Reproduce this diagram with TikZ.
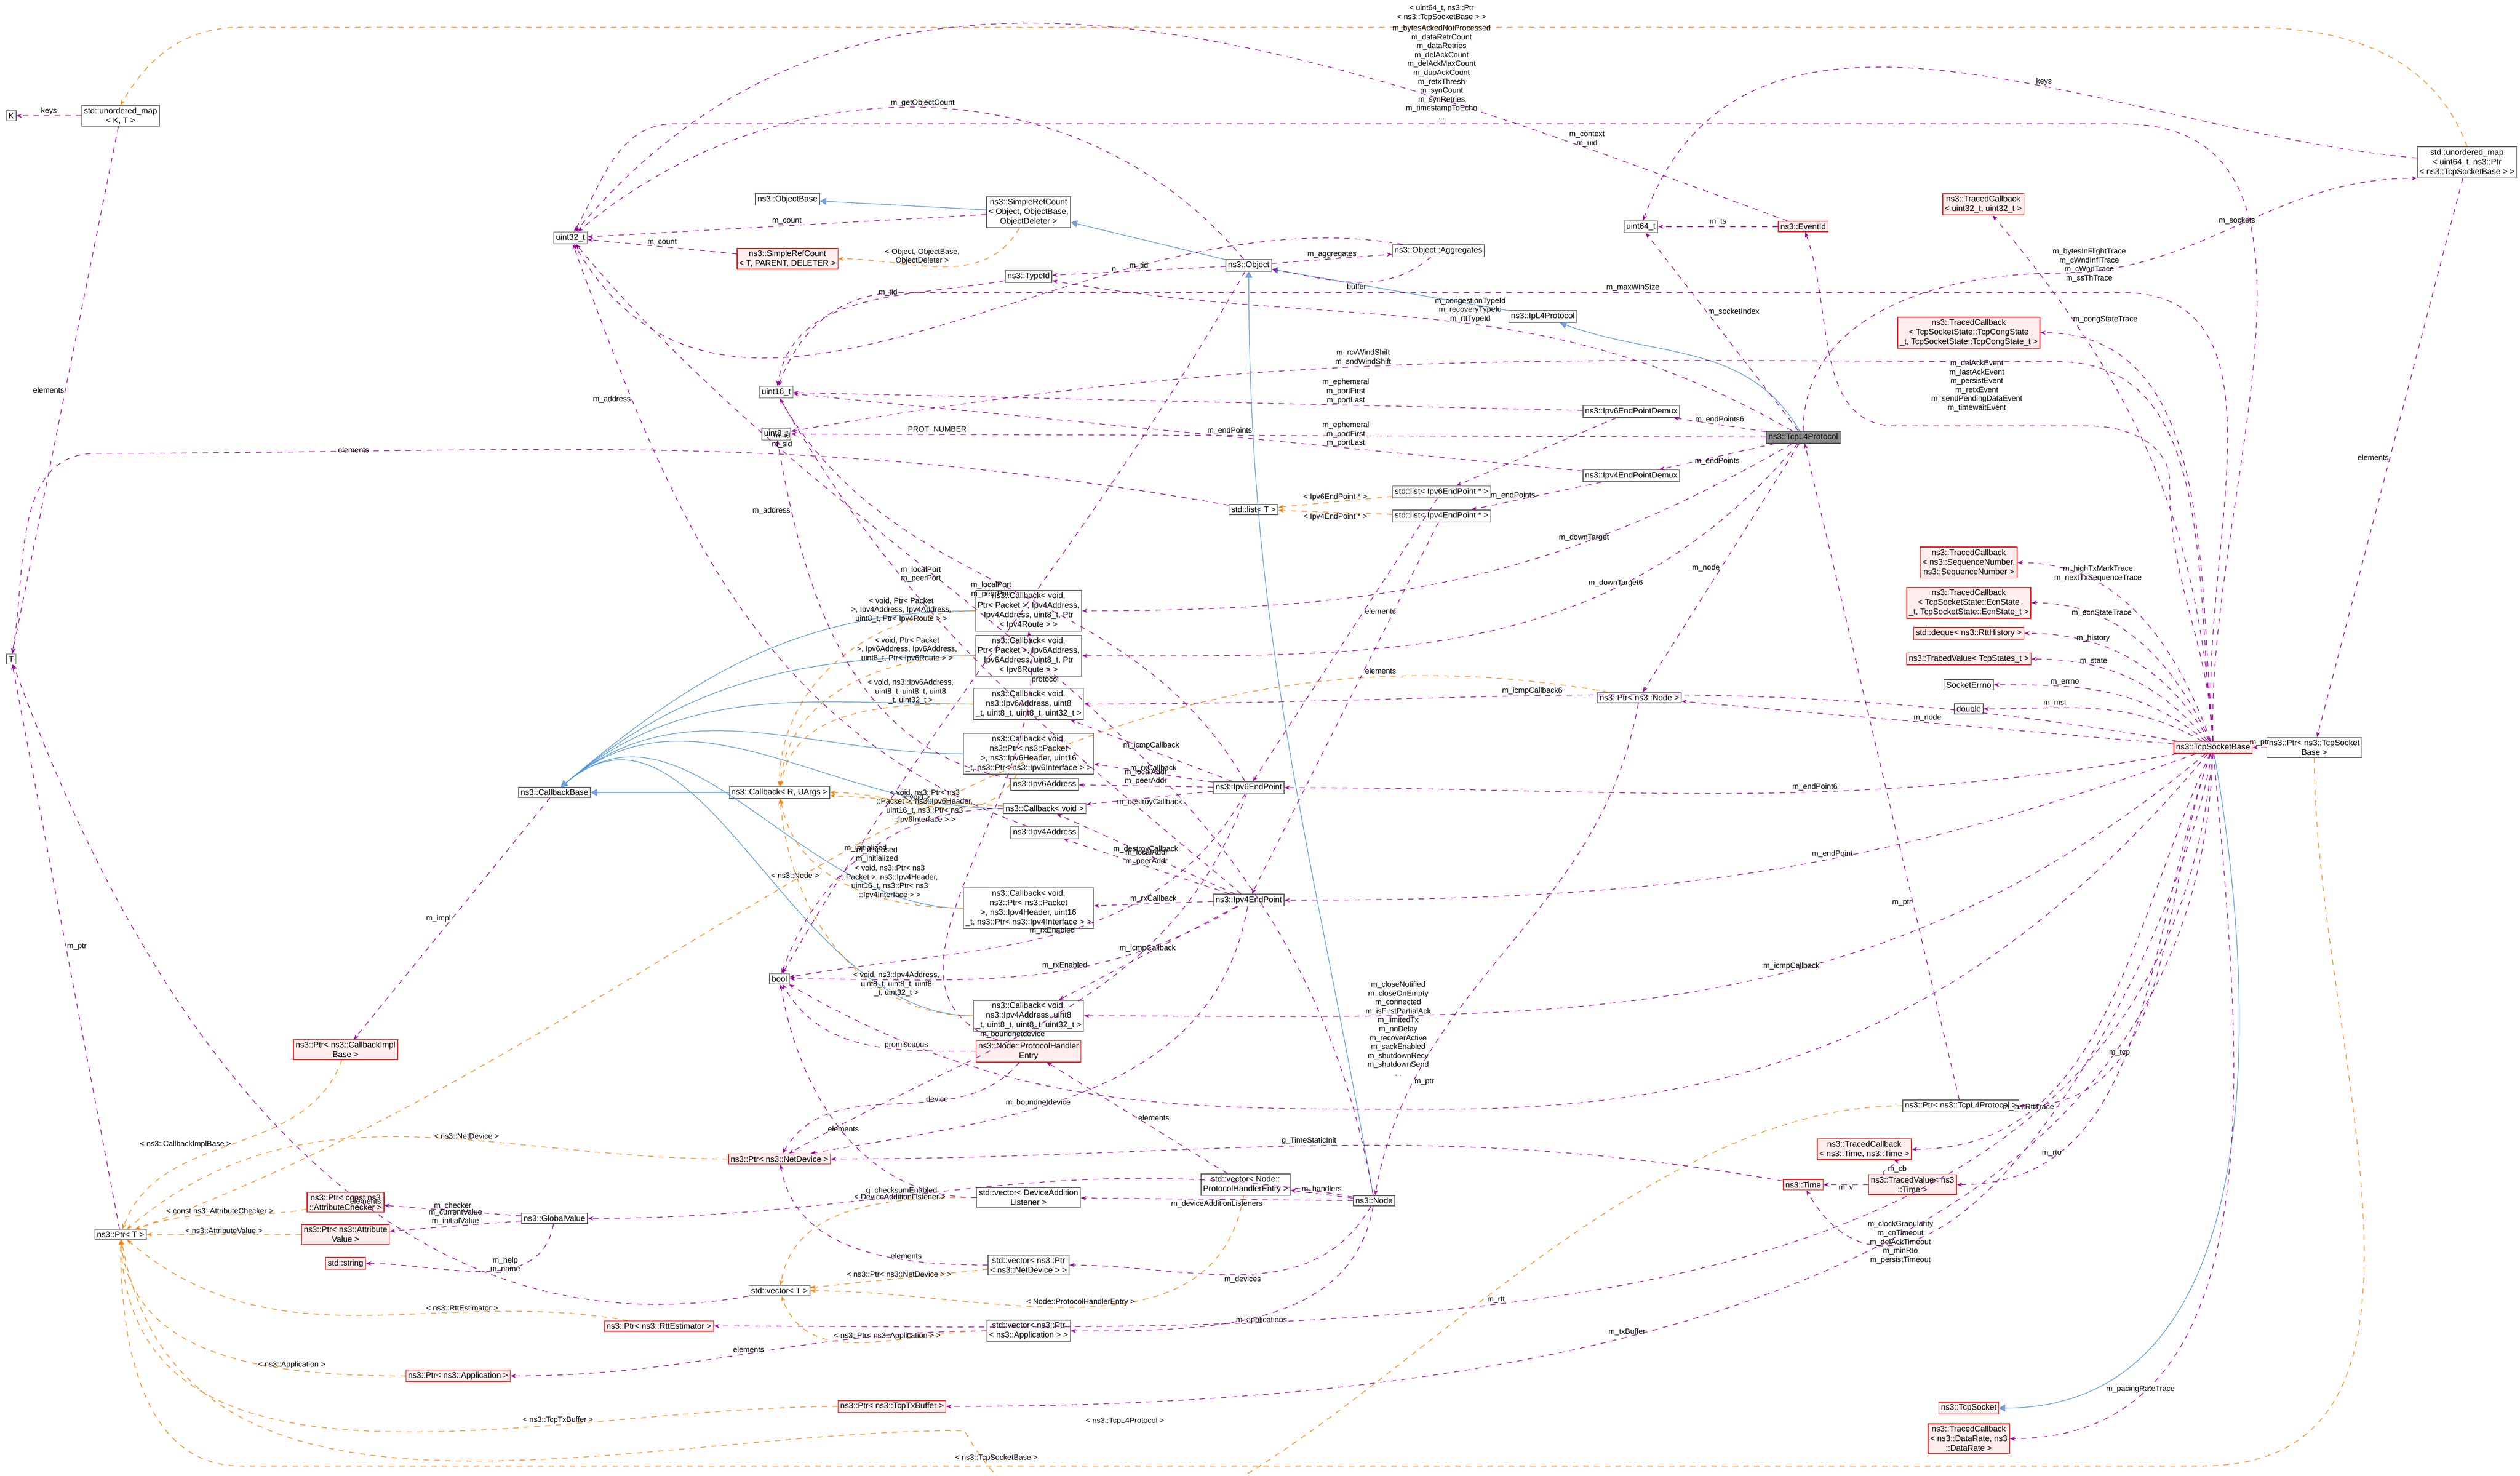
\documentclass[tikz,border=0pt]{standalone}
\usepackage{fontspec}
\setmainfont{Liberation Sans}
\usetikzlibrary{arrows.meta}
\begin{document}
\begin{tikzpicture}[x=0.03177cm,y=-0.03177cm,
  font=\fontsize{4.6}{5.4}\selectfont,
  box/.style={draw=black!60,fill=white,inner sep=1.2pt,align=center,line width=0.4pt},
  rbox/.style={draw=red,fill=red!7,inner sep=1.2pt,align=center,line width=0.4pt},
  gbox/.style={draw=black!70,fill=black!45,inner sep=1.2pt,align=center},
  use/.style={draw=violet!80!magenta,dashed,line width=0.35pt,-{Stealth[length=3pt]}},
  inh/.style={draw=cyan!60!blue!70,line width=0.35pt,-{Triangle[open,length=3.5pt,fill=cyan!40!blue!50]}},
  tpl/.style={draw=orange,dashed,line width=0.35pt,-{Stealth[length=3pt]}},
  lb/.style={font=\fontsize{4.3}{5}\selectfont,align=center,inner sep=0.5pt}]
\useasboundingbox (0,0) rectangle (1568,918);
% nodes
\node[box] (K) at (7,72) {K};
\node[box] (umapKT) at (75,72) {std::unordered\_map\\< K, T >};
\node[box] (u32) at (355,148) {uint32\_t};
\node[box] (objb) at (490,124) {ns3::ObjectBase};
\node[box] (src) at (640,132) {ns3::SimpleRefCount\\< Object, ObjectBase,\\ ObjectDeleter >};
\node[rbox] (srct) at (490,161) {ns3::SimpleRefCount\\< T, PARENT, DELETER >};
\node[box] (tid) at (640,172) {ns3::TypeId};
\node[box] (obj) at (777,165) {ns3::Object};
\node[box] (agg) at (895,156) {ns3::Object::Aggregates};
\node[box] (u64) at (1021,141) {uint64\_t};
\node[rbox] (evt) at (1122,141) {ns3::EventId};
\node[rbox] (tc32) at (1234,127) {ns3::TracedCallback\\< uint32\_t, uint32\_t >};
\node[box] (umap64) at (1535,101) {std::unordered\_map\\< uint64\_t, ns3::Ptr\\< ns3::TcpSocketBase > >};
\node[box] (ipl4) at (960,197) {ns3::IpL4Protocol};
\node[rbox] (tccong) at (1225,207) {ns3::TracedCallback\\< TcpSocketState::TcpCongState\\\_t, TcpSocketState::TcpCongState\_t >};
\node[box] (u16) at (483,244) {uint16\_t};
\node[box] (u8) at (483,270) {uint8\_t};
\node[box] (dmx6) at (1015,256) {ns3::Ipv6EndPointDemux};
\node[gbox] (tcpl4) at (1122,272) {ns3::TcpL4Protocol};
\node[box] (dmx4) at (1015,296) {ns3::Ipv4EndPointDemux};
\node[box] (list6) at (897,306) {std::list< Ipv6EndPoint * >};
\node[box] (list4) at (897,321) {std::list< Ipv4EndPoint * >};
\node[box] (listT) at (780,317) {std::list< T >};
\node[box] (T) at (7,410) {T};
\node[box] (cb4r) at (640,380) {ns3::Callback< void,\\ Ptr< Packet >, Ipv4Address,\\ Ipv4Address, uint8\_t, Ptr\\< Ipv4Route > >};
\node[box] (cb6r) at (640,408) {ns3::Callback< void,\\ Ptr< Packet >, Ipv6Address,\\ Ipv6Address, uint8\_t, Ptr\\< Ipv6Route > >};
\node[box] (cbi6) at (640,438) {ns3::Callback< void,\\ ns3::Ipv6Address, uint8\\\_t, uint8\_t, uint8\_t, uint32\_t >};
\node[box] (cbrx6) at (640,469) {ns3::Callback< void,\\ ns3::Ptr< ns3::Packet\\ >, ns3::Ipv6Header, uint16\\\_t, ns3::Ptr< ns3::Ipv6Interface > >};
\node[box] (ip6a) at (650,488) {ns3::Ipv6Address};
\node[box] (cbv) at (650,503) {ns3::Callback< void >};
\node[box] (ip4a) at (650,518) {ns3::Ipv4Address};
\node[box] (cbrx4) at (640,565) {ns3::Callback< void,\\ ns3::Ptr< ns3::Packet\\ >, ns3::Ipv4Header, uint16\\\_t, ns3::Ptr< ns3::Ipv4Interface > >};
\node[box] (cbi4) at (640,632) {ns3::Callback< void,\\ ns3::Ipv4Address, uint8\\\_t, uint8\_t, uint8\_t, uint32\_t >};
\node[rbox] (phe) at (640,654) {ns3::Node::ProtocolHandler\\Entry};
\node[box] (cbb) at (345,493) {ns3::CallbackBase};
\node[box] (cbr) at (485,493) {ns3::Callback< R, UArgs >};
\node[box] (bool) at (485,609) {bool};
\node[box] (ep6) at (777,490) {ns3::Ipv6EndPoint};
\node[box] (ep4) at (777,560) {ns3::Ipv4EndPoint};
\node[box] (pnode) at (1020,434) {ns3::Ptr< ns3::Node >};
\node[rbox] (pcbi) at (215,653) {ns3::Ptr< ns3::CallbackImpl\\Base >};
\node[rbox] (tcseq) at (1225,350) {ns3::TracedCallback\\< ns3::SequenceNumber,\\ ns3::SequenceNumber >};
\node[rbox] (tcecn) at (1225,375) {ns3::TracedCallback\\< TcpSocketState::EcnState\\\_t, TcpSocketState::EcnState\_t >};
\node[rbox] (deq) at (1225,394) {std::deque< ns3::RttHistory >};
\node[rbox] (tvst) at (1225,410) {ns3::TracedValue< TcpStates\_t >};
\node[box] (serr) at (1225,426) {SocketErrno};
\node[box] (dbl) at (1225,441) {double};
\node[rbox] (tsb) at (1377,465) {ns3::TcpSocketBase};
\node[box] (ptsb) at (1440,465) {ns3::Ptr< ns3::TcpSocket\\Base >};
\node[rbox] (pnd) at (485,721) {ns3::Ptr< ns3::NetDevice >};
\node[box] (vdal) at (640,745) {std::vector< DeviceAddition\\Listener >};
\node[box] (vphe) at (775,737) {std::vector< Node::\\ProtocolHandlerEntry >};
\node[box] (node) at (855,747) {ns3::Node};
\node[box] (ptl4) at (1220,688) {ns3::Ptr< ns3::TcpL4Protocol >};
\node[rbox] (tctime) at (1160,715) {ns3::TracedCallback\\< ns3::Time, ns3::Time >};
\node[rbox] (tvtime) at (1190,737) {ns3::TracedValue< ns3\\::Time >};
\node[rbox] (time) at (1122,737) {ns3::Time};
\node[box] (pT) at (75,768) {ns3::Ptr< T >};
\node[rbox] (pchk) at (215,748) {ns3::Ptr< const ns3\\::AttributeChecker >};
\node[rbox] (pav) at (215,768) {ns3::Ptr< ns3::Attribute\\Value >};
\node[rbox] (str) at (215,786) {std::string};
\node[box] (gv) at (345,758) {ns3::GlobalValue};
\node[box] (vT) at (485,803) {std::vector< T >};
\node[box] (vnd) at (640,787) {std::vector< ns3::Ptr\\< ns3::NetDevice > >};
\node[box] (vapp) at (640,828) {std::vector< ns3::Ptr\\< ns3::Application > >};
\node[rbox] (prtt) at (410,825) {ns3::Ptr< ns3::RttEstimator >};
\node[rbox] (papp) at (285,856) {ns3::Ptr< ns3::Application >};
\node[rbox] (ptx) at (555,875) {ns3::Ptr< ns3::TcpTxBuffer >};
\node[rbox] (tsock) at (1225,876) {ns3::TcpSocket};
\node[rbox] (tcrate) at (1225,895) {ns3::TracedCallback\\< ns3::DataRate, ns3\\::DataRate >};

% inheritance
\draw[inh] (src) -- (objb);
\draw[inh] (obj) -- (src);
\draw[inh] (ipl4) -- (obj);
\draw[inh] (tcpl4) to[out=120,in=-20] (ipl4);
\draw[inh] (node) to[out=100,in=-90] (obj);
\draw[inh] (cbr) -- (cbb);
\foreach \c in {cb4r,cb6r,cbi6,cbrx6,cbv,cbrx4,cbi4} \draw[inh] (\c) to[out=180,in=40] (cbb);
\draw[inh] (tsb) to[out=-80,in=0] (tsock);

% template instantiations
\draw[tpl] (umap64.north) to[out=110,in=0] (1400,17) -- (150,17) to[out=180,in=60] (umapKT.north);
\node[lb] at (897,8) {< uint64\_t, ns3::Ptr\\< ns3::TcpSocketBase > >};
\draw[tpl] (src) to[out=-120,in=0] node[lb,pos=0.4,above left] {< Object, ObjectBase,\\ ObjectDeleter >} (srct);
\draw[tpl] (list6) -- node[lb,above] {< Ipv6EndPoint * >} (listT);
\draw[tpl] (list4) -- node[lb,below] {< Ipv4EndPoint * >} (listT);
\draw[tpl] (pnode) to[out=170,in=20] node[lb,pos=0.55,above] {< ns3::Node >} (pT);
\draw[tpl] (cb4r) to[out=180,in=90] node[lb,pos=0.25,above] {< void, Ptr< Packet\\ >, Ipv4Address, Ipv4Address,\\ uint8\_t, Ptr< Ipv4Route > >} (cbr);
\draw[tpl] (cb6r) to[out=180,in=85] node[lb,pos=0.25,above] {< void, Ptr< Packet\\ >, Ipv6Address, Ipv6Address,\\ uint8\_t, Ptr< Ipv6Route > >} (cbr);
\draw[tpl] (cbi6) to[out=180,in=80] node[lb,pos=0.25,above] {< void, ns3::Ipv6Address,\\ uint8\_t, uint8\_t, uint8\\\_t, uint32\_t >} (cbr);
\draw[tpl] (cbrx6) to[out=-120,in=0] node[lb,pos=0.3,left] {< void, ns3::Ptr< ns3\\::Packet >, ns3::Ipv6Header,\\ uint16\_t, ns3::Ptr< ns3\\::Ipv6Interface > >} (cbr);
\draw[tpl] (cbv) -- node[lb,above] {< void >} (cbr);
\draw[tpl] (cbrx4) to[out=180,in=-80] node[lb,pos=0.3,above] {< void, ns3::Ptr< ns3\\::Packet >, ns3::Ipv4Header,\\ uint16\_t, ns3::Ptr< ns3\\::Ipv4Interface > >} (cbr);
\draw[tpl] (cbi4) to[out=180,in=-85] node[lb,pos=0.25,above] {< void, ns3::Ipv4Address,\\ uint8\_t, uint8\_t, uint8\\\_t, uint32\_t >} (cbr);
\draw[tpl] (pcbi) to[out=-110,in=70] node[lb,pos=0.5,left] {< ns3::CallbackImplBase >} (pT);
\draw[tpl] (pnd) to[out=180,in=40] node[lb,pos=0.4,above] {< ns3::NetDevice >} (pT);
\draw[tpl] (pchk) to[out=190,in=20] node[lb,above] {< const ns3::AttributeChecker >} (pT);
\draw[tpl] (pav) -- node[lb,above] {< ns3::AttributeValue >} (pT);
\draw[tpl] (prtt) to[out=170,in=-40] node[lb,pos=0.3,above] {< ns3::RttEstimator >} (pT);
\draw[tpl] (papp) to[out=180,in=-85] node[lb,pos=0.3,above] {< ns3::Application >} (pT);
\draw[tpl] (ptx) to[out=180,in=-88] node[lb,pos=0.3,above] {< ns3::TcpTxBuffer >} (pT);
\draw[tpl] (ptl4) to[out=180,in=-60] (600,890) to[out=180,in=-80] (pT);
\node[lb] at (700,884) {< ns3::TcpL4Protocol >};
\draw[tpl] (ptsb.south) to[out=-90,in=0] (1370,912) -- (150,912) to[out=180,in=-90] (pT.south);
\node[lb] at (620,907) {< ns3::TcpSocketBase >};
\draw[tpl] (vdal) to[out=180,in=80] node[lb,pos=0.3,above] {< DeviceAdditionListener >} (vT);
\draw[tpl] (vnd) -- node[lb,above] {< ns3::Ptr< ns3::NetDevice > >} (vT);
\draw[tpl] (vphe) to[out=-100,in=0] node[lb,pos=0.5,above] {< Node::ProtocolHandlerEntry >} (vT);
\draw[tpl] (vapp) to[out=180,in=-70] node[lb,pos=0.4,above] {< ns3::Ptr< ns3::Application > >} (vT);

% usage
\draw[use] (umapKT) -- node[lb,above] {keys} (K);
\draw[use] (umapKT) -- node[lb,left,pos=0.5] {elements} (T);
\draw[use] (src) -- node[lb,above] {m\_count} (u32);
\draw[use] (srct) -- node[lb,above] {m\_count} (u32);
\draw[use] (obj) to[out=130,in=40] node[lb,pos=0.5,above] {m\_getObjectCount} (u32);
\draw[use] (evt) to[out=160,in=50] node[lb,pos=0.15,above] {m\_context\\m\_uid} (u32);
\draw[use] (agg) to[out=170,in=-60] node[lb,pos=0.3,above] {n} (u32);
\draw[use] (obj) -- node[lb,above] {m\_tid} (tid);
\draw[use] (tid) to[out=190,in=80] node[lb,pos=0.4,above] {m\_tid} (u16);
\draw[use] (obj) -- node[lb,above] {m\_aggregates} (agg);
\draw[use] (agg) to[out=-140,in=-10] node[lb,below] {buffer} (obj);
\draw[use] (evt) -- node[lb,above] {m\_ts} (u64);
\draw[use] (tcpl4) -- node[lb,right,pos=0.6] {m\_socketIndex} (u64);
\draw[use] (umap64) to[out=175,in=70] node[lb,above,pos=0.4] {keys} (u64);
\draw[use] (tcpl4) to[out=90,in=180] (1280,170) to[out=0,in=180] node[lb,above] {m\_sockets} (umap64.south west);
% long edge at top
\draw[use] (tsb.north) to[out=92,in=0] (1320,77) -- (420,77) to[out=180,in=60] (u32);
\node[lb] at (897,45) {m\_bytesAckedNotProcessed\\m\_dataRetrCount\\m\_dataRetries\\m\_delAckCount\\m\_delAckMaxCount\\m\_dupAckCount\\m\_retxThresh\\m\_synCount\\m\_synRetries\\m\_timestampToEcho\\...};
\draw[use] (tsb.north) to[out=93,in=-90] (1350,300) to[out=90,in=0] (1300,265) -- (1180,265) to[out=180,in=-70] (evt);
\node[lb] at (1230,240) {m\_delAckEvent\\m\_lastAckEvent\\m\_persistEvent\\m\_retxEvent\\m\_sendPendingDataEvent\\m\_timewaitEvent};
\draw[use] (tsb.north) to[out=94,in=-50] (tc32);
\node[lb] at (1300,165) {m\_bytesInFlightTrace\\m\_cWndInflTrace\\m\_cWndTrace\\m\_ssThTrace};
\draw[use] (tsb.north) to[out=95,in=0] (tccong);
\node[lb] at (1310,199) {m\_congStateTrace};
\draw[use] (tsb.north) to[out=96,in=0] (1320,182) -- node[lb,above,pos=0.4] {m\_maxWinSize} (560,182) to[out=180,in=70] (u16);
\draw[use] (tsb.north) to[out=97,in=0] (1280,225) to[out=180,in=10] node[lb,above,pos=0.55] {m\_rcvWindShift\\m\_sndWindShift} (u8);
\draw[use] (tcpl4) to[out=150,in=-10] node[lb,pos=0.45,above] {m\_congestionTypeId\\m\_recoveryTypeId\\m\_rttTypeId} (tid);
\draw[use] (tcpl4) -- node[lb,above] {m\_endPoints6} (dmx6);
\draw[use] (tcpl4) -- node[lb,below] {m\_endPoints} (dmx4);
\draw[use] (tcpl4) -- node[lb,pos=0.55,above] {m\_endPoints} node[lb,pos=0.85,above] {PROT\_NUMBER} (u8);
\draw[use] (dmx6) -- node[lb,pos=0.3,above] {m\_ephemeral\\m\_portFirst\\m\_portLast} (u16);
\draw[use] (dmx4) -- node[lb,pos=0.3,above] {m\_ephemeral\\m\_portFirst\\m\_portLast} (u16);
\draw[use] (dmx6) -- (list6);
\draw[use] (dmx4) -- node[lb,left] {m\_endPoints} (list4);
\draw[use] (list6) -- node[lb,pos=0.4,right] {elements} (ep6);
\draw[use] (list4) -- node[lb,pos=0.4,right] {elements} (ep4);
\draw[use] (listT) to[out=170,in=0] (60,282) to[out=180,in=80] (T);
\node[lb] at (220,280) {elements};
\draw[use] (tcpl4) to[out=-150,in=0] node[lb,pos=0.3,above] {m\_downTarget} (cb4r);
\draw[use] (tcpl4) to[out=-130,in=0] node[lb,pos=0.3,above] {m\_downTarget6} (cb6r);
\draw[use] (tcpl4) -- node[lb,pos=0.5,left] {m\_node} (pnode);
\draw[use] (ep6) -- node[lb,above] {m\_icmpCallback} (cbi6);
\draw[use] (ep6) -- node[lb,above] {m\_rxCallback} (cbrx6);
\draw[use] (ep6) -- node[lb,above] {m\_localAddr\\m\_peerAddr} (ip6a);
\draw[use] (ep6) -- node[lb,below] {m\_destroyCallback} (cbv);
\draw[use] (ep6) to[out=120,in=-60] node[lb,pos=0.5,left] {m\_localPort\\m\_peerPort} (u16);
\draw[use] (ep6) to[out=-120,in=10] node[lb,pos=0.5,above] {m\_rxEnabled} (bool);
\draw[use] (ep6) to[out=-110,in=30] node[lb,pos=0.6,above] {m\_boundnetdevice} (pnd);
\draw[use] (ep4) -- node[lb,above] {m\_destroyCallback} (cbv);
\draw[use] (ep4) -- node[lb,above] {m\_localAddr\\m\_peerAddr} (ip4a);
\draw[use] (ep4) -- node[lb,above] {m\_rxCallback} (cbrx4);
\draw[use] (ep4) -- node[lb,above] {m\_icmpCallback} (cbi4);
\draw[use] (ep4) to[out=140,in=-60] node[lb,pos=0.7,right] {m\_localPort\\m\_peerPort} (u16);
\draw[use] (ep4) to[out=-150,in=0] node[lb,pos=0.4,above] {m\_rxEnabled} (bool);
\draw[use] (ep4) to[out=-100,in=10] node[lb,pos=0.6,above] {m\_boundnetdevice} (pnd);
\draw[use] (cbb) -- node[lb,left] {m\_impl} (pcbi);
\draw[use] (obj) to[out=-120,in=60] node[lb,pos=0.85,right] {m\_disposed\\m\_initialized} (bool);
\draw[use] (cbv) to[out=180,in=70] node[lb,pos=0.5,above] {m\_initialized} (bool);
\draw[use] (ip4a) to[out=160,in=-70] node[lb,pos=0.8,left] {m\_address} (u32);
\draw[use] (ip6a) to[out=170,in=-80] node[lb,pos=0.85,left] {m\_address} (u8);
\draw[use] (phe) to[out=180,in=-60] node[lb,pos=0.3,above] {promiscuous} (bool);
\draw[use] (phe) to[out=-130,in=60] node[lb,pos=0.3,left] {device} (pnd);
\draw[use] (phe) to[out=160,in=-80] node[lb,pos=0.9,right] {protocol} (cb4r.south);
\draw[use] (vphe) -- node[lb,pos=0.5,right] {elements} (phe);
\draw[use] (node) -- node[lb,above] {m\_handlers} (vphe);
\draw[use] (node) -- node[lb,below] {m\_deviceAdditionListeners} (vdal);
\draw[use] (node) to[out=-120,in=0] node[lb,pos=0.5,below] {m\_devices} (vnd);
\draw[use] (node) to[out=-100,in=0] node[lb,pos=0.5,below] {m\_applications} (vapp);
\draw[use] (node) to[out=170,in=0] node[lb,pos=0.6,above] {g\_checksumEnabled} (gv);
\draw[use] (node) to[out=100,in=-50] node[lb,pos=0.8,right] {m\_id\\m\_sid} (u32);
\draw[use] (vnd) to[out=180,in=-80] node[lb,pos=0.3,above] {elements} (pnd);
\draw[use] (vapp) to[out=180,in=0] node[lb,pos=0.5,above] {elements} (papp);
\draw[use] (vdal) to[out=180,in=-80] node[lb,pos=0.5,above] {elements} (bool);
\draw[use] (vT) to[out=190,in=-70] node[lb,pos=0.4,above] {elements} (T);
\draw[use] (gv) -- node[lb,above] {m\_checker} (pchk);
\draw[use] (gv) -- node[lb,above] {m\_currentValue\\m\_initialValue} (pav);
\draw[use] (gv) to[out=-100,in=0] node[lb,pos=0.3,left] {m\_help\\m\_name} (str);
\draw[use] (pT) -- node[lb,right,pos=0.5] {m\_ptr} (T);
\draw[use] (pnode) to[out=-100,in=80] node[lb,pos=0.8,right] {m\_ptr} (node);
\draw[use] (ptl4) -- node[lb,pos=0.3,left] {m\_ptr} (tcpl4);
\draw[use] (ptsb) -- node[lb,above] {m\_ptr} (tsb);
\draw[use] (umap64) -- node[lb,pos=0.5,left] {elements} (ptsb);
\draw[use] (tsb) to[out=110,in=0] node[lb,pos=0.7,above] {m\_highTxMarkTrace\\m\_nextTxSequenceTrace} (tcseq);
\draw[use] (tsb) to[out=115,in=0] node[lb,pos=0.7,above] {m\_ecnStateTrace} (tcecn);
\draw[use] (tsb) to[out=120,in=0] node[lb,pos=0.7,above] {m\_history} (deq);
\draw[use] (tsb) to[out=130,in=0] node[lb,pos=0.7,above] {m\_state} (tvst);
\draw[use] (tsb) to[out=140,in=0] node[lb,pos=0.7,above] {m\_errno} (serr);
\draw[use] (tsb) to[out=150,in=0] node[lb,pos=0.7,above] {m\_msl} (dbl);
\draw[use] (tsb) -- node[lb,pos=0.5,above] {m\_node} (pnode);
\draw[use] (tsb) to[out=170,in=0] node[lb,pos=0.6,above] {m\_icmpCallback6} (cbi6);
\draw[use] (tsb) to[out=190,in=0] node[lb,pos=0.4,above] {m\_endPoint6} (ep6);
\draw[use] (tsb) to[out=200,in=0] node[lb,pos=0.4,above] {m\_endPoint} (ep4);
\draw[use] (tsb) to[out=220,in=0] node[lb,pos=0.4,above] {m\_icmpCallback} (cbi4);
\draw[use] (tsb) to[out=230,in=0] (900,690) to[out=180,in=-30] (bool);
\node[lb] at (870,640) {m\_closeNotified\\m\_closeOnEmpty\\m\_connected\\m\_isFirstPartialAck\\m\_limitedTx\\m\_noDelay\\m\_recoverActive\\m\_sackEnabled\\m\_shutdownRecv\\m\_shutdownSend\\...};
\draw[use] (tsb) to[out=-110,in=0] node[lb,pos=0.7,above] {m\_tcp} (ptl4);
\draw[use] (tsb) to[out=-115,in=0] node[lb,pos=0.75,above] {m\_lastRttTrace} (tctime);
\draw[use] (tsb) to[out=-110,in=0] node[lb,pos=0.8,above] {m\_rto} (tvtime);
\draw[use] (tvtime) to[out=160,in=-20] node[lb,right,pos=0.4] {m\_cb} (tctime);
\draw[use] (tvtime) -- node[lb,below] {m\_v} (time);
\draw[use] (tsb) to[out=-100,in=-60] node[lb,pos=0.85,right] {m\_clockGranularity\\m\_cnTimeout\\m\_delAckTimeout\\m\_minRto\\m\_persistTimeout} (time);
\draw[use] (time) to[out=170,in=0] node[lb,pos=0.5,above] {g\_TimeStaticInit} (pnd);
\draw[use] (tsb) to[out=-95,in=0] node[lb,pos=0.6,above] {m\_rtt} (prtt);
\draw[use] (tsb) to[out=-92,in=0] node[lb,pos=0.6,above] {m\_txBuffer} (ptx);
\draw[use] (tsb) to[out=-85,in=0] node[lb,pos=0.8,above] {m\_pacingRateTrace} (tcrate);
\end{tikzpicture}
\end{document}
